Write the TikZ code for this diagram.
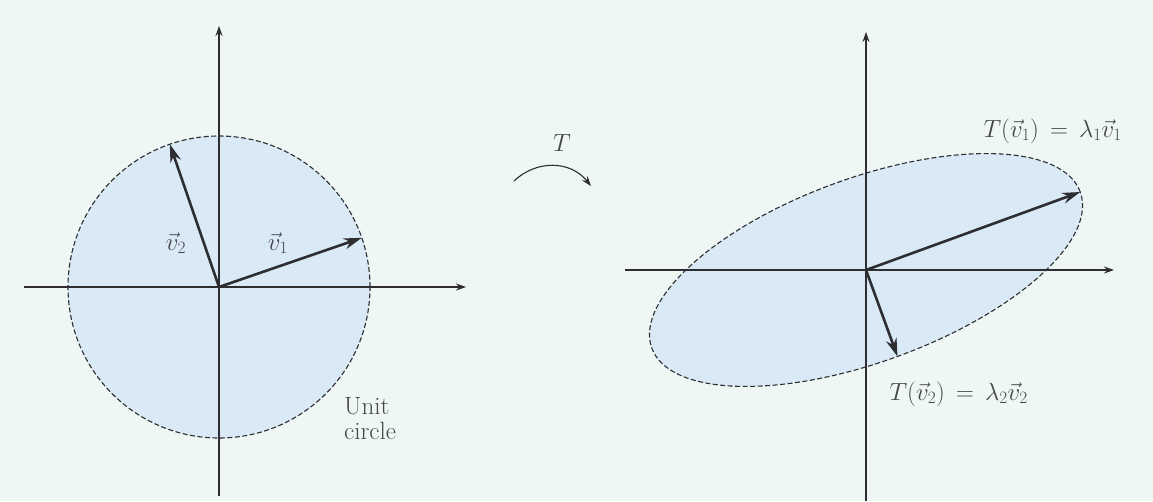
\documentclass[tikz,border=0pt]{standalone}
\usepackage{amsmath, amssymb}
\usepackage{tikz}
\usetikzlibrary{arrows.meta}
\definecolor{bgpaper}{RGB}{238, 247, 244}
\definecolor{diskfill}{RGB}{217, 233, 245}
\definecolor{inkline}{RGB}{45, 45, 50}
\definecolor{inktext}{RGB}{70, 70, 75}

\begin{document}
\begin{tikzpicture}[x=1pt, y=-1pt,
		axis/.style={inkline, line width=1.1pt, -{Stealth[length=10pt, width=7pt]}},
		vec/.style={inkline, line width=2.6pt, -{Stealth[length=18pt, width=11pt]}},
		rim/.style={inkline, line width=1.1pt, dash pattern=on 5pt off 2.5pt},
		lbl/.style={text=inktext, font=\fontsize{25}{29}\selectfont}]
			\def\rc{151}
			\def\ea{228}
			\def\eb{92}
			% paper
			\fill[bgpaper] (0,0) rectangle (1153,501);
			\useasboundingbox (0,0) rectangle (1153,501);

			% Left: unit circle
			\coordinate (oL) at (219,287);
			\fill[diskfill] (oL) circle (\rc pt);
			\draw[rim] (oL) circle (\rc pt);
			\coordinate (xL0) at (24,287);
			\coordinate (xL1) at (466,287);
			\coordinate (yL0) at (219,496);
			\coordinate (yL1) at (219,26);
			\draw[axis] (xL0) -- (xL1);
			\draw[axis] (yL0) -- (yL1);
			\draw[inkline, line width=2pt] (oL) -- (yL0);
			\path (oL) ++(19:\rc pt) coordinate (v1L);
			\path (oL) ++(109:\rc pt) coordinate (v2L);
			\draw[vec] (oL) -- (v1L);
			\draw[vec] (oL) -- (v2L);

			\node[lbl] (lv1) at (278,243) {$\vec{v}_1$};
			\node[lbl] (lv2) at (176,243) {$\vec{v}_2$};
			\node[lbl, align=left, anchor=north west, inner sep=0pt] (unit) at (344,397) {Unit\\[-4pt]circle};

			% the map T
			\node[lbl] (tmap) at (562,143) {$T$};
			\coordinate (ta) at (514,181);
			\coordinate (tb) at (591,186);
			\draw[inkline, line width=1.1pt, -{Stealth[length=10pt, width=7pt]}] (ta) .. controls (536,160) and (570,160) .. (tb);

			% Right: image ellipse
			\coordinate (oR) at (866,270);
			\fill[diskfill, rotate around={20:(oR)}] (oR) ellipse [x radius=\ea pt, y radius=\eb pt];
			\draw[rim, rotate around={20:(oR)}] (oR) ellipse [x radius=\ea pt, y radius=\eb pt];
			\coordinate (xR0) at (625,270);
			\coordinate (xR1) at (1114,270);
			\coordinate (yR0) at (866,501);
			\coordinate (yR1) at (866,32);
			\draw[axis] (xR0) -- (xR1);
			\draw[axis] (yR0) -- (yR1);
			\path (oR) ++(20:\ea pt) coordinate (v1R);
			\path (oR) ++(-70:\eb pt) coordinate (v2R);
			\draw[vec] (oR) -- (v1R);
			\draw[vec] (oR) -- (v2R);

			\node[lbl, anchor=west] (tv1) at (980,131) {$T(\vec{v}_1)\,=\,\lambda_1\vec{v}_1$};
			\node[lbl, anchor=west] (tv2) at (886,394) {$T(\vec{v}_2)\,=\,\lambda_2\vec{v}_2$};
		\end{tikzpicture}
\end{document}
